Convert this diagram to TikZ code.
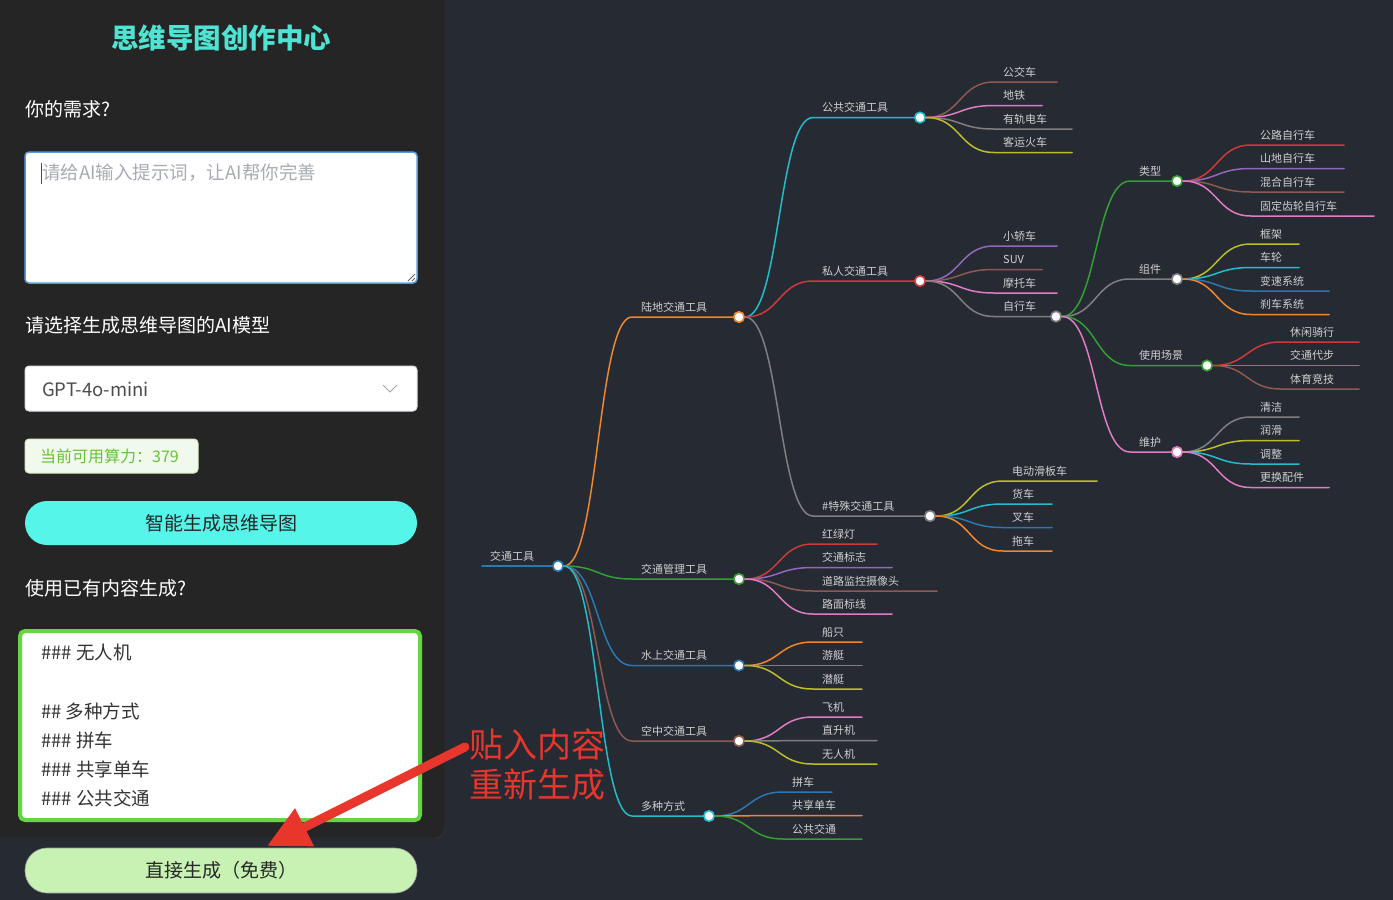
\documentclass[tikz,border=0pt]{standalone}
\usepackage{fontspec}
\setmainfont{Noto Sans CJK SC}
\usepackage{tikz}
\usetikzlibrary{arrows.meta, calc, positioning}
\definecolor{pagebg}{HTML}{262A33}
\definecolor{panelbg}{HTML}{252525}
\definecolor{panelline}{HTML}{3C3C3C}
\definecolor{titlecyan}{HTML}{4FE3D3}
\definecolor{areablue}{HTML}{5A9AD8}
\definecolor{hintgray}{HTML}{A8ABB2}
\definecolor{boxline}{HTML}{DCDFE6}
\definecolor{quotafill}{HTML}{F0F9EB}
\definecolor{quotaline}{HTML}{D5EDC8}
\definecolor{quotagreen}{HTML}{67C23A}
\definecolor{smartcyan}{HTML}{56F5EA}
\definecolor{pastegreen}{HTML}{66D63E}
\definecolor{freegreen}{HTML}{C8F2B4}
\definecolor{annored}{HTML}{E8362C}
\definecolor{mmlabel}{HTML}{CFCFCF}
\definecolor{mblue}{HTML}{2A78B0}
\definecolor{morange}{HTML}{F0862E}
\definecolor{mgreen}{HTML}{33A033}
\definecolor{mred}{HTML}{CC3A3A}
\definecolor{mpurple}{HTML}{9467BD}
\definecolor{mbrown}{HTML}{8C5A50}
\definecolor{mpink}{HTML}{E07BC4}
\definecolor{mgray}{HTML}{7F7F7F}
\definecolor{molive}{HTML}{BCBD2A}
\definecolor{mcyan}{HTML}{22BCCC}
\tikzset{
	mmline/.style={line width=1.5pt, line cap=round},
	mmcurve/.style={out=0, in=180, distance=35pt},
	mmdot/.style={circle, fill=white, line width=1.6pt, minimum size=10.5pt, inner sep=0pt},
	mmtext/.style={anchor=base west, inner sep=0pt, font=\fontsize{11}{13}\selectfont, text=mmlabel}
}
\tikzset{
	paneltext/.style={anchor=west, inner sep=0pt, text=white, font=\fontsize{19}{22}\selectfont},
	formbox/.style={fill=white, rounded corners=4pt, inner sep=0pt},
	pillbtn/.style={rounded corners=22pt, inner sep=0pt, minimum width=392pt, minimum height=44pt,
		font=\fontsize{19}{22}\selectfont, text=black!85}
}
% hub: parent, name, knee x, y, dot x, colour, text
\NewDocumentCommand{\mmhub}{mmmmmmm}{%
	\node[mmdot, draw=#6] (#2) at (#5,#4) {};
	\coordinate (#2-k) at (#3,#4);
	\draw[mmline, draw=#6] (#1) to[mmcurve] (#2-k) -- (#2);
	\node[mmtext] (#2-t) at ([xshift=9pt, yshift=6pt]#2-k) {#7};
}
% leaf: parent, name, knee x, y, end x, colour, text
\NewDocumentCommand{\mmleaf}{mmmmmmm}{%
	\coordinate (#2-k) at (#3,#4);
	\coordinate (#2) at (#5,#4);
	\draw[mmline, draw=#6] (#1) to[mmcurve] (#2-k) -- (#2);
	\node[mmtext] (#2-t) at ([xshift=9pt, yshift=6pt]#2-k) {#7};
}
\begin{document}
\begin{tikzpicture}[x=1pt, y=-1pt]
\useasboundingbox (0,0) rectangle (1393,900);
\fill[pagebg] (0,0) rectangle (1393,900);

% left panel
\draw[panelline, fill=panelbg, rounded corners=10pt] (-10,-10) rectangle (445,838);
\node[font=\fontsize{27.5}{30}\selectfont\bfseries, text=titlecyan] (title) at (221,38) {思维导图创作中心};

\node[paneltext] (asklabel) at (25,109) {你的需求?};
\node[formbox, draw=areablue, line width=1.5pt, minimum width=392pt, minimum height=131pt] (askbox) at (221,217.5) {};
\node[anchor=west, inner sep=0pt, text=hintgray, font=\fontsize{18.5}{22}\selectfont] (hint) at (42,173) {请给AI输入提示词，让AI帮你完善};
\draw[black!70, line width=1pt] (41,163) -- (41,184);
\draw[black!60, line width=0.8pt] (408,281) -- (415,274) (412,281) -- (415,278);

\node[paneltext] (modellabel) at (25,325) {请选择生成思维导图的AI模型};
\node[formbox, draw=boxline, line width=1pt, minimum width=392pt, minimum height=45pt] (modelbox) at (221,388.5) {};
\node[anchor=west, inner sep=0pt, text=black!70, font=\fontsize{18.5}{22}\selectfont] (model) at (42,389) {GPT-4o-mini};
\draw[black!35, line width=1pt] (383,385) -- (390,392) -- (397,385);

\node[formbox, fill=quotafill, draw=quotaline, line width=1pt, minimum width=173pt, minimum height=34pt] (quota) at (111.5,456) {};
\node[anchor=west, inner sep=0pt, text=quotagreen, font=\fontsize{16}{19}\selectfont] (quotatext) at (40,456) {当前可用算力：379};

\node[pillbtn, fill=smartcyan] (smartbtn) at (221,523) {智能生成思维导图};

\node[paneltext] (pastelabel) at (25,588) {使用已有内容生成?};
\node[formbox, draw=pastegreen, line width=4pt, rounded corners=5pt, minimum width=400pt, minimum height=189pt] (pastebox) at (220,725.5) {};
\foreach \y/\txt in {652/{\#\#\# 无人机}, 711/{\#\# 多种方式}, 740/{\#\#\# 拼车}, 769/{\#\#\# 共享单车}, 798/{\#\#\# 公共交通}}
	\node[anchor=west, inner sep=0pt, text=black!80, font=\fontsize{18.5}{22}\selectfont] (line\y) at (41,\y) {\txt};

\node[pillbtn, fill=freegreen, draw=black!40, line width=0.6pt, minimum height=45pt] (freebtn) at (221,870.5) {直接生成（免费）};

% mind map
\coordinate (rootstart) at (482,566);
\node[mmdot, draw=mblue] (root) at (558,566) {};
\draw[mmline, draw=mblue] (rootstart) -- (root);
\node[mmtext] (root-t) at (490,560) {交通工具};

\mmhub{root}{land}{632}{317}{739}{morange}{陆地交通工具}
\mmhub{root}{mgmt}{632}{579}{739}{mgreen}{交通管理工具}
\mmhub{root}{water}{632}{665.5}{739}{mblue}{水上交通工具}
\mmhub{root}{air}{632}{741}{739}{mbrown}{空中交通工具}
\mmhub{root}{multi}{632}{816}{709}{mcyan}{多种方式}

\mmhub{land}{public}{813}{117.5}{920}{mcyan}{公共交通工具}
\mmhub{land}{private}{813}{281}{920}{mred}{私人交通工具}
\mmhub{land}{special}{813}{516}{930}{mgray}{\#特殊交通工具}

\mmleaf{public}{bus}{994}{82}{1057}{mbrown}{公交车}
\mmleaf{public}{metro}{994}{105.5}{1042}{mpink}{地铁}
\mmleaf{public}{tram}{994}{129}{1072}{mgray}{有轨电车}
\mmleaf{public}{train}{994}{152.5}{1072}{molive}{客运火车}

\mmleaf{private}{sedan}{994}{246}{1057}{mpurple}{小轿车}
\mmleaf{private}{suv}{994}{269.5}{1042}{mbrown}{SUV}
\mmleaf{private}{moto}{994}{293}{1057}{mpink}{摩托车}
\mmhub{private}{bike}{994}{316.5}{1056}{mgray}{自行车}

\mmhub{bike}{btype}{1130}{181}{1177}{mgreen}{类型}
\mmhub{bike}{bparts}{1130}{279}{1177}{mgray}{组件}
\mmhub{bike}{buse}{1130}{365.5}{1207}{mgreen}{使用场景}
\mmhub{bike}{bcare}{1130}{452}{1177}{mpink}{维护}

\mmleaf{btype}{road}{1251}{145}{1344}{mred}{公路自行车}
\mmleaf{btype}{mtb}{1251}{168.5}{1344}{mpurple}{山地自行车}
\mmleaf{btype}{hybrid}{1251}{192}{1344}{mbrown}{混合自行车}
\mmleaf{btype}{fixie}{1251}{216}{1374}{mpink}{固定齿轮自行车}

\mmleaf{bparts}{frame}{1251}{244}{1299}{molive}{框架}
\mmleaf{bparts}{wheel}{1251}{267.5}{1299}{mcyan}{车轮}
\mmleaf{bparts}{gears}{1251}{291}{1329}{mblue}{变速系统}
\mmleaf{bparts}{brakes}{1251}{314.5}{1329}{morange}{刹车系统}

\mmleaf{buse}{leisure}{1281}{342}{1359}{mred}{休闲骑行}
\mmleaf{buse}{commute}{1281}{365.5}{1359}{mpurple}{交通代步}
\mmleaf{buse}{sport}{1281}{389}{1359}{mbrown}{体育竞技}

\mmleaf{bcare}{clean}{1251}{417}{1299}{mgray}{清洁}
\mmleaf{bcare}{lube}{1251}{440.5}{1299}{molive}{润滑}
\mmleaf{bcare}{tune}{1251}{464}{1299}{mcyan}{调整}
\mmleaf{bcare}{spare}{1251}{487.5}{1329}{mpink}{更换配件}

\mmleaf{special}{scooter}{1003}{481}{1097}{molive}{电动滑板车}
\mmleaf{special}{truck}{1003}{504}{1052}{mcyan}{货车}
\mmleaf{special}{forklift}{1003}{527.5}{1052}{mblue}{叉车}
\mmleaf{special}{trailer}{1003}{551}{1052}{morange}{拖车}

\mmleaf{mgmt}{light}{813}{544}{877}{mred}{红绿灯}
\mmleaf{mgmt}{sign}{813}{567.5}{892}{mpurple}{交通标志}
\mmleaf{mgmt}{camera}{813}{591}{937}{mbrown}{道路监控摄像头}
\mmleaf{mgmt}{marking}{813}{614}{892}{mpink}{路面标线}

\mmleaf{water}{ship}{813}{642}{862}{morange}{船只}
\mmleaf{water}{yacht}{813}{665.5}{862}{mgray}{游艇}
\mmleaf{water}{sub}{813}{689}{862}{molive}{潜艇}

\mmleaf{air}{plane}{813}{717}{862}{mpink}{飞机}
\mmleaf{air}{heli}{813}{740.5}{877}{mgray}{直升机}
\mmleaf{air}{drone}{813}{764}{877}{molive}{无人机}

\mmleaf{multi}{carpool}{783}{792}{832}{mblue}{拼车}
\mmleaf{multi}{sharebike}{783}{815.5}{862}{morange}{共享单车}
\mmleaf{multi}{transit}{783}{839}{862}{mgreen}{公共交通}

% annotation
\node[anchor=west, inner sep=0pt, align=left, text=annored, font=\fontsize{34}{40}\selectfont] (paste) at (469,765) {贴入内容\\重新生成};
\coordinate (arrtail) at (465,747);
\coordinate (arrtip) at (267,846);
\draw[annored, line width=9pt, line cap=round, -{Triangle[length=42pt, width=40pt]}] (arrtail) -- (arrtip);
\end{tikzpicture}
\end{document}
